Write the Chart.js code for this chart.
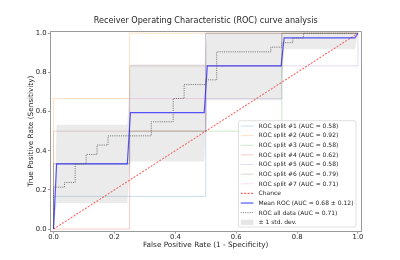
<!DOCTYPE html>
<html><head><meta charset="utf-8">
<script src="https://cdn.jsdelivr.net/npm/chart.js@4.4.0/dist/chart.umd.min.js"></script>
<style>html,body{margin:0;padding:0;background:#fff;}#wrap{width:400px;height:260px;}</style>
</head><body><div id="wrap"><canvas id="c" width="400" height="260"></canvas></div>
<script>
// ---- data ----
const splitAuc = [0.58, 0.92, 0.58, 0.62, 0.58, 0.79, 0.71];
const fprSplit1 = [0, 0, 0.5, 0.5, 1];
const tprSplit1 = [0, 0.1667, 0.1667, 1, 1];
const fprSplit2 = [0, 0, 0.25, 0.25, 1];
const tprSplit2 = [0, 0.6667, 0.6667, 1, 1];
const fprSplit3 = [0, 0, 0.25, 0.25, 0.75, 0.75, 1];
const tprSplit3 = [0, 0.3333, 0.3333, 0.5, 0.5, 1, 1];
const fprSplit4 = [0, 0.25, 0.25, 0.5, 0.5, 1];
const tprSplit4 = [0, 0, 0.5, 0.5, 1, 1];
const fprSplit5 = [0, 0, 0.25, 0.25, 0.5, 0.5, 0.75, 0.75, 1, 1];
const tprSplit5 = [0, 0.3333, 0.3333, 0.5, 0.5, 0.6667, 0.6667, 0.8333, 0.8333, 1];
const fprSplit6 = [0, 0, 0.25, 0.25, 0.75, 0.75, 1];
const tprSplit6 = [0, 0.5, 0.5, 0.8333, 0.8333, 1, 1];
const fprSplit7 = [0, 0, 0.25, 0.25, 0.5, 0.5, 0.75, 0.75, 1];
const tprSplit7 = [0, 0.3333, 0.3333, 0.6667, 0.6667, 0.8333, 0.8333, 1, 1];

const chanceFpr = [0, 1];
const chanceTpr = [0, 1];

const meanFpr = [0, 0.0101, 0.2424, 0.2525, 0.4949, 0.5051, 0.7475, 0.7576, 0.9899, 1];
const meanTpr = [0, 0.333, 0.333, 0.595, 0.595, 0.833, 0.833, 0.976, 0.976, 1];
const stdUpper = [0, 0.533, 0.533, 0.84, 0.84, 1, 1, 1, 1, 1];
const stdLower = [0, 0.133, 0.133, 0.345, 0.345, 0.658, 0.658, 0.918, 0.918, 1];
const meanAucText = '0.68 ± 0.12';

const allFpr = [0, 0, 0.036, 0.036, 0.071, 0.071, 0.107, 0.107, 0.143, 0.143, 0.179, 0.179, 0.321, 0.321, 0.393, 0.393, 0.429, 0.429, 0.5, 0.5, 0.536, 0.536, 0.714, 0.714, 0.75, 0.75, 0.786, 0.786, 0.821, 0.821, 1];
const allTpr = [0, 0.214, 0.214, 0.238, 0.238, 0.333, 0.333, 0.381, 0.381, 0.429, 0.429, 0.476, 0.476, 0.548, 0.548, 0.667, 0.667, 0.738, 0.738, 0.762, 0.762, 0.905, 0.905, 0.929, 0.929, 0.952, 0.952, 0.976, 0.976, 1, 1];
const allAuc = 0.71;

const xTickValues = [0, 0.2, 0.4, 0.6, 0.8, 1.0];
const yTickValues = [0, 0.2, 0.4, 0.6, 0.8, 1.0];
const chartTitle = 'Receiver Operating Characteristic (ROC) curve analysis';

// ---- styling ----
const FONT = '"DejaVu Sans", "Liberation Sans", sans-serif';
const splitColors = ['rgba(31,119,180,0.3)', 'rgba(255,127,14,0.3)', 'rgba(44,160,44,0.3)', 'rgba(214,39,40,0.3)',
  'rgba(148,103,189,0.3)', 'rgba(140,86,75,0.3)', 'rgba(227,119,194,0.3)'];
const AX = '#9a9a9a';

const pts = (xs, ys) => xs.map((x, i) => ({x: x, y: ys[i]}));
const splitFprs = [fprSplit1, fprSplit2, fprSplit3, fprSplit4, fprSplit5, fprSplit6, fprSplit7];
const splitTprs = [tprSplit1, tprSplit2, tprSplit3, tprSplit4, tprSplit5, tprSplit6, tprSplit7];

const datasets = [];
splitFprs.forEach((f, i) => {
  datasets.push({label: 'ROC split #' + (i + 1) + ' (AUC = ' + splitAuc[i].toFixed(2) + ')',
    data: pts(f, splitTprs[i]), borderColor: splitColors[i], borderWidth: 0.8,
    pointRadius: 0, fill: false, order: 10, legendRank: i});
});
datasets.push({label: 'Chance', data: pts(chanceFpr, chanceTpr), borderColor: 'rgba(255,0,0,0.6)',
  borderWidth: 1.1, borderDash: [2, 1.4], pointRadius: 0, fill: false, order: 4, legendRank: 7});
datasets.push({label: 'Mean ROC (AUC = ' + meanAucText + ')', data: pts(meanFpr, meanTpr),
  borderColor: 'rgba(0,0,255,0.65)', borderWidth: 1.2, pointRadius: 0, fill: false, order: 2, legendRank: 8});
datasets.push({label: 'ROC all data (AUC = ' + allAuc.toFixed(2) + ')', data: pts(allFpr, allTpr),
  borderColor: 'rgba(90,90,90,0.8)', borderWidth: 1, borderDash: [1.1, 1.1], pointRadius: 0, fill: false, order: 1, legendRank: 9});
datasets.push({label: '', data: pts(meanFpr, stdLower), borderColor: 'rgba(0,0,0,0)', borderWidth: 0,
  pointRadius: 0, fill: false, order: 3});
datasets.push({label: '± 1 std. dev.', data: pts(meanFpr, stdUpper), borderColor: 'rgba(0,0,0,0)', borderWidth: 0,
  pointRadius: 0, fill: '-1', backgroundColor: 'rgba(128,128,128,0.16)', order: 3, legendRank: 10, isPatch: true});

const framePlugin = {
  id: 'frame',
  afterDatasetsDraw(chart) {
    const {ctx, chartArea: a} = chart;
    ctx.save();
    ctx.strokeStyle = AX; ctx.lineWidth = 1;
    ctx.beginPath();
    ctx.moveTo(Math.round(a.left) - 0.5, Math.round(a.top) + 0.5);
    ctx.lineTo(Math.round(a.right) + 0.5, Math.round(a.top) + 0.5);
    ctx.lineTo(Math.round(a.right) + 0.5, Math.round(a.bottom) + 0.5);
    ctx.stroke();
    ctx.restore();
  }
};

const titlePlugin = {
  id: 'areaTitle',
  afterDraw(chart) {
    const {ctx, chartArea: a} = chart;
    ctx.save();
    ctx.font = '8.1px ' + FONT;
    ctx.fillStyle = '#262626';
    ctx.textAlign = 'center'; ctx.textBaseline = 'middle';
    ctx.fillText(chartTitle, (a.left + a.right) / 2, 20.8);
    ctx.restore();
  }
};

const legendPlugin = {
  id: 'roclegend',
  afterDraw(chart) {
    const {ctx, chartArea: a} = chart;
    const items = chart.data.datasets.filter(d => d.legendRank !== undefined)
      .sort((p, q) => p.legendRank - q.legendRank);
    ctx.save();
    ctx.font = '6px ' + FONT;
    let maxW = 0;
    items.forEach(d => { maxW = Math.max(maxW, ctx.measureText(d.label).width); });
    const rowH = 9.63, padTop = 5.3, padBot = 4.7;
    const right = a.right - 5, bottom = a.bottom - 4;
    const boxW = 20 + maxW + 2.5;
    const boxH = padTop + (items.length - 1) * rowH + padBot;
    const left = right - boxW, top = bottom - boxH;
    ctx.beginPath();
    const r = 2;
    ctx.moveTo(left + r, top); ctx.lineTo(right - r, top); ctx.quadraticCurveTo(right, top, right, top + r);
    ctx.lineTo(right, bottom - r); ctx.quadraticCurveTo(right, bottom, right - r, bottom);
    ctx.lineTo(left + r, bottom); ctx.quadraticCurveTo(left, bottom, left, bottom - r);
    ctx.lineTo(left, top + r); ctx.quadraticCurveTo(left, top, left + r, top);
    ctx.closePath();
    ctx.fillStyle = 'rgba(255,255,255,0.85)'; ctx.fill();
    ctx.strokeStyle = '#d8d8d8'; ctx.lineWidth = 0.8; ctx.stroke();
    items.forEach((d, i) => {
      const cy = top + padTop + i * rowH;
      const hx0 = left + 2.3, hx1 = left + 15;
      if (d.isPatch) {
        ctx.fillStyle = 'rgba(128,128,128,0.2)';
        ctx.fillRect(hx0, cy - 2.6, hx1 - hx0, 5.2);
      } else {
        ctx.beginPath();
        ctx.setLineDash(d.borderDash || []);
        ctx.strokeStyle = d.borderColor; ctx.lineWidth = d.borderWidth;
        ctx.moveTo(hx0, cy); ctx.lineTo(hx1, cy); ctx.stroke();
        ctx.setLineDash([]);
      }
      ctx.fillStyle = '#262626';
      ctx.textBaseline = 'middle'; ctx.textAlign = 'left';
      ctx.fillText(d.label, left + 20, cy + 0.3);
    });
    ctx.restore();
  }
};

new Chart(document.getElementById('c'), {
  type: 'line',
  data: {datasets: datasets},
  plugins: [framePlugin, titlePlugin, legendPlugin],
  options: {
    responsive: false, animation: false,
    layout: {padding: {left: 0, right: 39, top: 31.3, bottom: 0}},
    elements: {line: {tension: 0}},
    plugins: {
      legend: {display: false}, tooltip: {enabled: false},
      title: {display: false},
      filler: {propagate: false}
    },
    scales: {
      x: {
        type: 'linear', min: -0.01, max: 1.01,
        afterFit(s) { s.height = 29; },
        afterBuildTicks(s) { s.ticks = xTickValues.map(v => ({value: v})); },
        grid: {drawOnChartArea: false, drawTicks: true, tickLength: 2.5, color: AX, lineWidth: 1},
        border: {display: true, color: AX, width: 1},
        ticks: {color: '#262626', font: {family: FONT, size: 6.8}, padding: 0, maxRotation: 0,
          callback: v => Number(v).toFixed(1)},
        title: {display: true, text: 'False Positive Rate (1 - Specificity)', color: '#262626',
          font: {family: FONT, size: 7.3}, padding: {top: 0, bottom: 10.3}}
      },
      y: {
        type: 'linear', min: -0.01, max: 1.01,
        afterFit(s) { s.width = 50.5; },
        afterBuildTicks(s) { s.ticks = yTickValues.map(v => ({value: v})); },
        grid: {drawOnChartArea: false, drawTicks: true, tickLength: 2.5, color: AX, lineWidth: 1},
        border: {display: true, color: AX, width: 1},
        ticks: {color: '#262626', font: {family: FONT, size: 6.8}, padding: 1.5,
          callback: v => Number(v).toFixed(1)},
        title: {display: true, text: 'True Positive Rate (Sensitivity)', color: '#262626',
          font: {family: FONT, size: 7.3}, padding: {top: 26.6, bottom: 0}}
      }
    }
  }
});
</script>
</body></html>
